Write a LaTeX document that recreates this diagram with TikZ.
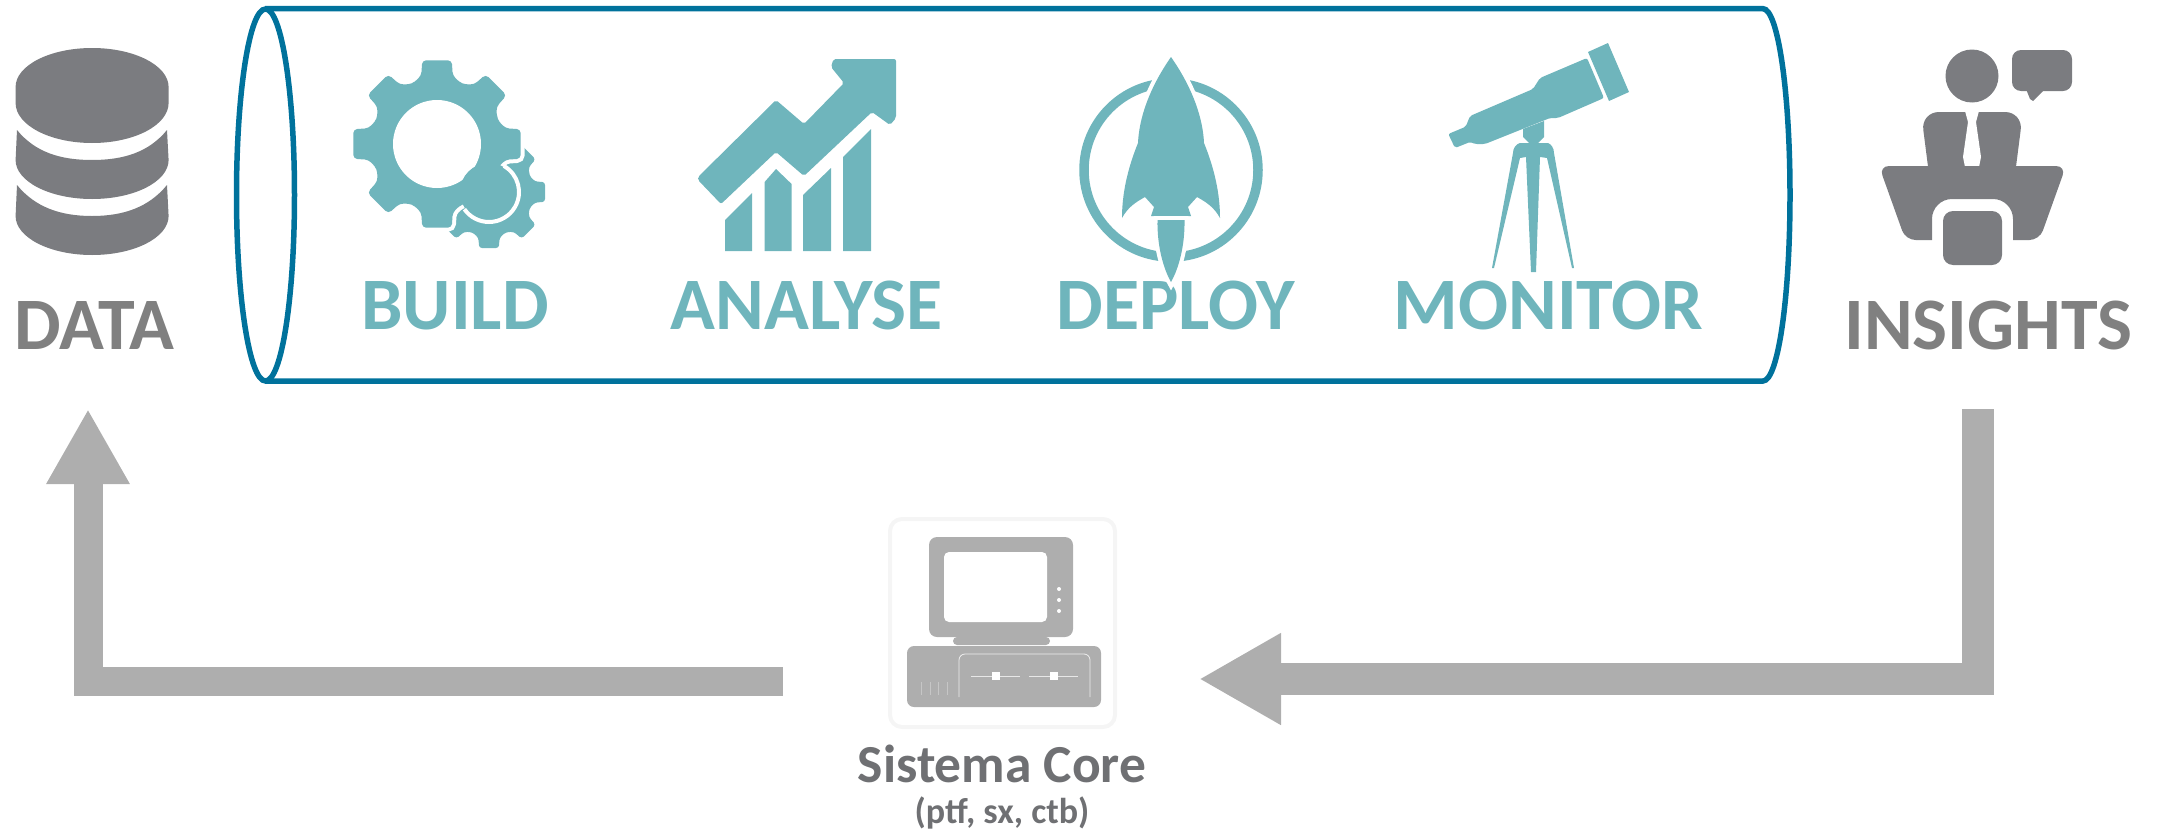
\documentclass[tikz,border=0pt]{standalone}
\usepackage{fontspec}
\setmainfont{Carlito}
\usetikzlibrary{arrows.meta,positioning}
\definecolor{tubeblue}{HTML}{00729C}
\definecolor{iconteal}{HTML}{6FB5BC}
\definecolor{icongrey}{HTML}{7B7C80}
\definecolor{wordgrey}{HTML}{808080}
\definecolor{flowgrey}{HTML}{AEAEAE}
\definecolor{framegrey}{HTML}{F5F5F5}
\newcommand{\gearpath}[3]{(-22.5:#3) \foreach \a in {0,45,...,315} {-- (\a-13:#2) -- (\a-10:#1) -- (\a+10:#1) -- (\a+13:#2) -- (\a+22.5:#3)} -- cycle}
\begin{document}
\begin{tikzpicture}[x=1pt, y=-1pt,
		word/.style = {font=\bfseries\fontsize{74}{74}\selectfont, inner sep=0pt, outer sep=0pt, text height=46pt, text depth=0pt},
		tealword/.style = {word, text=iconteal},
		greyword/.style = {word, text=wordgrey},
		tube/.style = {draw=tubeblue, line width=5.5pt},
		flow/.style = {draw=flowgrey, line width=#1},
		tealicon/.style = {fill=iconteal, draw=none},
		greyicon/.style = {fill=icongrey, draw=none},
		pcpart/.style = {fill=flowgrey, draw=none},
		halo/.style = {preaction={draw=white, line width=#1}}]
		\useasboundingbox (0,0) rectangle (2164,835);

		\node[greyword] (data) at (94.5,326) {DATA};
		\node[tealword] (build) at (455,306) {BUILD};
		\node[tealword] (analyse) [right=122pt of build] {ANALYSE};
		\node[tealword] (deploy) [right=114pt of analyse] {DEPLOY};
		\node[tealword] (monitor) [right=99pt of deploy] {MONITOR};
		\node[greyword] (insights) at (1988.5,326) {INSIGHTS};
		\node[font=\bfseries\fontsize{53.5}{53.5}\selectfont, text=icongrey!90!black, inner sep=0pt] (core) at (1002,764) {Sistema Core};
		\node[font=\bfseries\fontsize{36}{36}\selectfont, text=icongrey!90!black, inner sep=0pt] (coresub) [below=13pt of core] {(ptf, sx, ctb)};

		\draw[tube] (265,8.7) -- (1763,8.7) .. controls (1778,8.7) and (1790,92) .. (1790,195) .. controls (1790,298) and (1778,381) .. (1763,381) -- (265,381);
		\draw[tube] (265.5,195) ellipse [x radius=29, y radius=186];

		\fill[greyicon] (15.6,87) arc [start angle=180, end angle=360, x radius=76.5, y radius=39] -- (168.6,103) arc [start angle=0, end angle=180, x radius=76.5, y radius=40] -- cycle;
		\fill[greyicon] (17,130) .. controls (35,152) and (60,160) .. (92,160) .. controls (124,160) and (149,152) .. (167,130) -- (168.6,160) arc [start angle=0, end angle=180, x radius=76.5, y radius=39] -- cycle;
		\fill[greyicon] (17,185) .. controls (35,207) and (60,216) .. (92,216) .. controls (124,216) and (149,207) .. (167,185) -- (168.6,216) arc [start angle=0, end angle=180, x radius=76.5, y radius=39] -- cycle;

		\begin{scope}[shift={(489,192)}, scale=0.67]
			\fill[tealicon, rounded corners=3pt] \gearpath{85}{70}{65};
		\end{scope}
		\begin{scope}[shift={(437,144)}]
			\fill[tealicon, halo=8pt, rounded corners=4pt] \gearpath{85}{70}{65};
			\fill[white] (0,0) circle (44);
		\end{scope}
		\fill[tealicon] (489,192) circle (29);
		\draw[white, line width=4pt] (489,192) ++(-60:30) arc [start angle=-60, end angle=145, radius=30];

		\fill[tealicon, rounded corners=2pt] (698,177) -- (698,180) -- (721,204) -- (776,152) -- (804,176) -- (872,112) -- (890,125) -- (896,118) -- (896,59) -- (833.5,59) -- (831,67) -- (844,83) -- (804,124) -- (776,100) -- cycle;
		\fill[tealicon] (725,251) -- (725,220) -- (752,193) -- (752,251) -- cycle;
		\fill[tealicon] (764.6,251) -- (764.6,182) -- (776,169) -- (791.6,184) -- (791.6,251) -- cycle;
		\fill[tealicon] (803,251) -- (803,195) -- (831,168) -- (831,251) -- cycle;
		\fill[tealicon] (843,251) -- (843,157) -- (871,129) -- (871,251) -- cycle;

		\draw[iconteal, line width=9.5pt] (1171,170) circle (87);
		\fill[tealicon, halo=8pt] (1171,57) .. controls (1148,90) and (1139,120) .. (1138,143) .. controls (1127,170) and (1122,195) .. (1122,218) .. controls (1128,207) and (1136,202) .. (1145,197) -- (1154,207) -- (1151,216) -- (1191,216) -- (1188,207) -- (1197,197) .. controls (1206,202) and (1214,207) .. (1220,218) .. controls (1220,195) and (1215,170) .. (1204,143) .. controls (1203,120) and (1194,90) .. cycle;
		\fill[tealicon, halo=8pt] (1157.5,220) -- (1184.5,220) .. controls (1185,245) and (1179,268) .. (1171,282) .. controls (1163,268) and (1157,245) .. cycle;

		\fill[tealicon] (1588,52) -- (1608,43) -- (1629,92) -- (1609,101) -- cycle;
		\fill[tealicon, rounded corners=2pt] (1448.3,134) -- (1465.7,126.7) -- (1470,116) -- (1533,89) -- (1540,78) -- (1587,58) -- (1604,98) -- (1558,118) -- (1550,118) -- (1485,144) -- (1475,144) -- (1470,142) -- (1455,148) -- cycle;
		\fill[tealicon] (1523,129) -- (1544,121) -- (1544,137) -- (1538,143) -- (1548,143) .. controls (1551,144) and (1554,148) .. (1554,153) -- (1574,268) -- (1572,268) -- (1547,158) -- (1540,157) -- (1536,272) -- (1531,272) -- (1526,157) -- (1520,158) -- (1494,268) -- (1492,268) -- (1513,153) .. controls (1513,148) and (1516,144) .. (1520,143) -- (1529,143) -- (1523,137) -- cycle;

		\fill[greyicon] (1972,76) circle (26.5);
		\fill[greyicon, rounded corners=9pt] (2012,50) rectangle (2072,91);
		\fill[greyicon] (2026,89) -- (2030,99) -- (2033,101) -- (2045,89) -- cycle;
		\fill[greyicon, rounded corners=18pt] (1931,190) -- (1921,112) -- (2023,112) -- (2013,190) -- cycle;
		\fill[white] (1965,111) -- (1979,111) -- (1976,122) -- (1981,157) -- (1979,167) -- (1965,167) -- (1963,157) -- (1968,122) -- cycle;
		\fill[greyicon, rounded corners=10pt] (1879,166) -- (2066,166) -- (2039.5,240) [sharp corners] -- (2013,240) [rounded corners=20pt] -- (2013,199) -- (1932,199) [sharp corners] -- (1932,240) [rounded corners=10pt] -- (1905.5,240) -- cycle;
		\fill[greyicon, rounded corners=10pt] (1943,211) rectangle (2002,265);

		\draw[framegrey, line width=4pt, rounded corners=12pt] (890,519) rectangle (1115,727);
		\fill[pcpart, rounded corners=8pt] (929,537) rectangle (1073,637);
		\fill[white, rounded corners=5pt] (944,552) rectangle (1047,622);
		\foreach \y in {589,600,611} {
			\fill[white] (1059,\y) circle (2);
		}
		\fill[pcpart, rounded corners=4pt] (953,637) rectangle (1050,645);
		\fill[pcpart, rounded corners=7pt] (907,646) rectangle (1101,707);
		\draw[white!80!flowgrey, line width=0.8pt, rounded corners=6pt] (959,697) -- (959,654) -- (1090,654) -- (1090,697);
		\draw[white!70!flowgrey, line width=0.8pt] (971,676) -- (1020,676);
		\draw[white!70!flowgrey, line width=0.8pt] (1029,676) -- (1078,676);
		\foreach \x in {996,1054} {
			\fill[white] (\x-4,672) rectangle (\x+4,680);
		}
		\foreach \x in {921,930,938,947} {
			\draw[white!30!flowgrey, line width=0.6pt] (\x,682) -- (\x,695);
		}

		\coordinate (coreout) at (783,681.5);
		\coordinate (datain) at (88,409);
		\coordinate (insightsout) at (1977.5,409);
		\coordinate (corein) at (1199,679);
		\draw[flow=29pt, -{Triangle[length=75pt, width=78pt]}] (coreout) -| (datain);
		\draw[flow=32pt, -{Triangle[length=82pt, width=86pt]}] (insightsout) |- (corein);
	\end{tikzpicture}
\end{document}
